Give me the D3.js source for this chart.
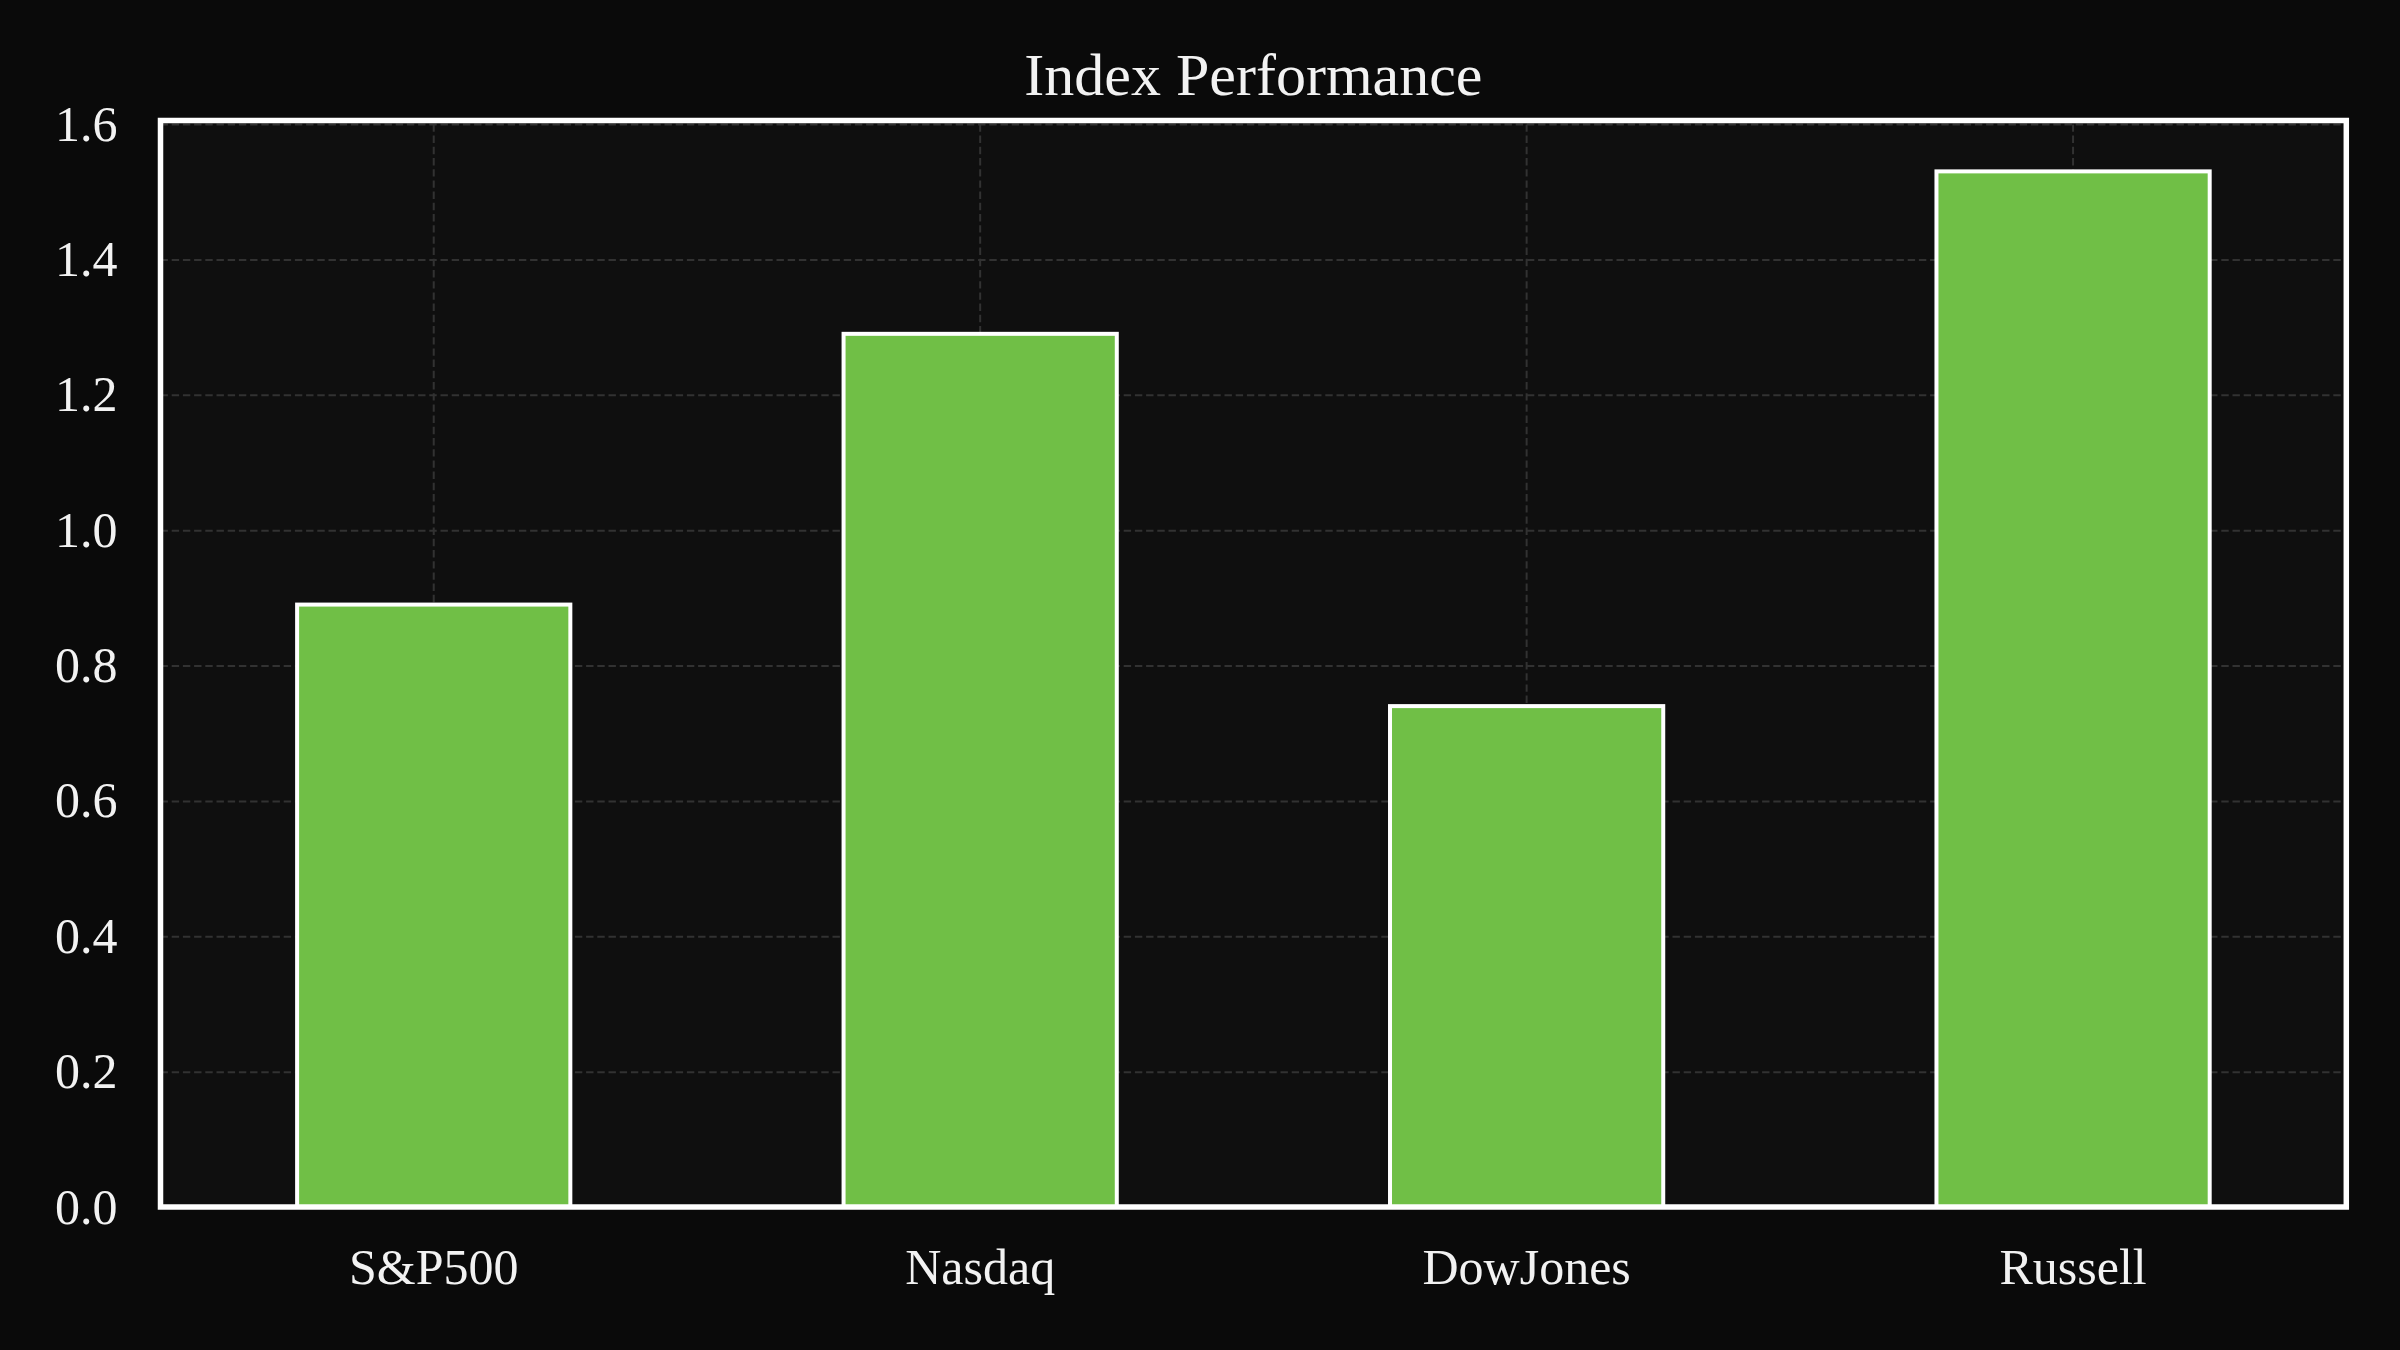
<!DOCTYPE html>
<html>
<head>
<meta charset="utf-8">
<script src="https://cdn.jsdelivr.net/npm/d3@7"></script>
<style>
    html, body { margin: 0; padding: 0; background: #0a0a0a; }
    #chart { width: 2400px; height: 1350px; }
</style>
</head>
<body>
<div id="chart"></div>
<script>
// chart data
const categories = ["S&P500", "Nasdaq", "DowJones", "Russell"];
const values = [0.89, 1.29, 0.74, 1.53];
const yTickValues = [0.0, 0.2, 0.4, 0.6, 0.8, 1.0, 1.2, 1.4, 1.6];
const chartTitle = "Index Performance";

class BarChart {
    constructor(parentElement, categories, values) {
        this.parentElement = parentElement;
        this.categories = categories;
        this.values = values;

        this.initVis();
    }

    initVis() {
        let vis = this;

        vis.margin = {top: 124, bottom: 143, left: 160.5, right: 53.7};
        vis.outerWidth = 2400;
        vis.outerHeight = 1350;
        vis.width = vis.outerWidth - vis.margin.left - vis.margin.right;
        vis.height = vis.outerHeight - vis.margin.top - vis.margin.bottom;

        vis.data = vis.categories.map((c, i) => ({name: c, value: vis.values[i]}));

        vis.svg = d3.select("#" + vis.parentElement).append("svg")
            .attr("width", vis.outerWidth)
            .attr("height", vis.outerHeight)
            .append("g")
            .attr("transform", "translate(" + vis.margin.left + "," + vis.margin.top + ")");

        vis.x = d3.scaleBand()
            .domain(vis.categories)
            .range([0, vis.width])
            .paddingInner(0.5)
            .paddingOuter(0.25);

        vis.y = d3.scaleLinear()
            .domain([0, 1.6])
            .range([vis.height, 0]);

        // the frame sits a touch above the 1.6 line
        vis.frameTop = -3.5;

        // plot background
        vis.svg.append("rect")
            .attr("x", 0)
            .attr("y", vis.frameTop)
            .attr("width", vis.width)
            .attr("height", vis.height - vis.frameTop)
            .attr("fill", "#0f0f0f");

        // grid
        vis.svg.append("g")
            .attr("class", "grid y-grid")
            .call(d3.axisLeft(vis.y).tickValues(yTickValues).tickSize(-vis.width).tickFormat(""))
            .call(g => g.select(".domain").remove());

        vis.svg.append("g")
            .attr("class", "grid x-grid")
            .attr("transform", `translate(0, ${vis.height})`)
            .call(d3.axisBottom(vis.x).tickSize(-(vis.height - vis.frameTop)).tickFormat(""))
            .call(g => g.select(".domain").remove());

        vis.svg.selectAll(".grid line")
            .attr("stroke", "#323232")
            .attr("stroke-width", 2)
            .attr("stroke-dasharray", "7.4,3.8");

        // bars
        vis.svg.selectAll("rect.bar")
            .data(vis.data)
            .enter()
            .append("rect")
            .attr("class", "bar")
            .attr("x", d => vis.x(d.name))
            .attr("y", d => vis.y(d.value))
            .attr("width", vis.x.bandwidth())
            .attr("height", d => vis.height - vis.y(d.value))
            .attr("fill", "#70bf46")
            .attr("stroke", "#ffffff")
            .attr("stroke-width", 4);

        // frame
        vis.svg.append("rect")
            .attr("x", 0)
            .attr("y", vis.frameTop)
            .attr("width", vis.width)
            .attr("height", vis.height - vis.frameTop)
            .attr("fill", "none")
            .attr("stroke", "#ffffff")
            .attr("stroke-width", 5.5);

        // axes
        vis.yAxis = vis.svg.append("g")
            .attr("class", "axis y-axis")
            .call(d3.axisLeft(vis.y).tickValues(yTickValues).tickSize(0).tickPadding(43).tickFormat(d3.format(".1f")));

        vis.xAxis = vis.svg.append("g")
            .attr("class", "axis x-axis")
            .attr("transform", `translate(0, ${vis.height})`)
            .call(d3.axisBottom(vis.x).tickSize(0).tickPadding(41.5));

        vis.svg.selectAll(".axis .domain").remove();

        vis.svg.selectAll(".axis text")
            .attr("fill", "#f2f2f2")
            .attr("font-family", "'Liberation Serif', 'DejaVu Serif', serif")
            .attr("font-size", "50px");

        // title
        vis.svg.append("text")
            .attr("x", vis.width / 2)
            .attr("y", 95 - vis.margin.top)
            .attr("text-anchor", "middle")
            .attr("fill", "#f2f2f2")
            .attr("font-family", "'Liberation Serif', 'DejaVu Serif', serif")
            .attr("font-size", "60px")
            .text(chartTitle);
    }
}

new BarChart("chart", categories, values);
</script>
</body>
</html>
